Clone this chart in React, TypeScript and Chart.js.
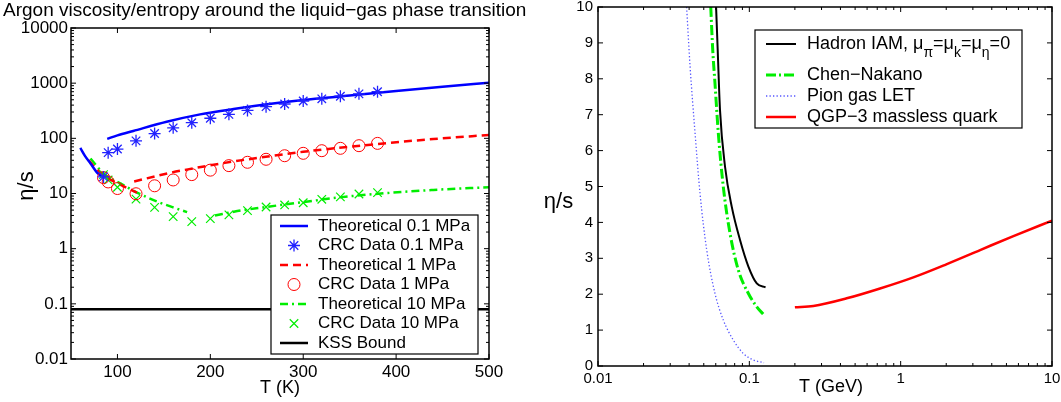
import React, { useEffect, useRef } from 'react';
import { Chart, registerables } from 'chart.js';
Chart.register(...registerables);

const FONT = '"Liberation Sans", Arial, Helvetica, sans-serif';

// ---------------- Left panel: Argon ----------------
const theo01LiqT = [60, 65, 71, 78, 86];
const theo01LiqV = [67, 48, 35, 24, 19];
const theo01GasT = [89, 100, 117, 153, 189, 225, 261, 300, 350, 400, 450, 500];
const theo01GasV = [98, 113, 136, 200, 272, 340, 414, 495, 595, 720, 860, 1020];

const crcT = [85, 90, 100, 120, 140, 160, 180, 200, 220, 240, 260, 280, 300, 320, 340, 360, 380];
const crc01V = [20, 55, 64, 90, 122, 155, 192, 231, 272, 321, 375, 419, 475, 520, 580, 640, 700];

const theo1LiqT = [69, 78, 85, 92, 103, 112, 121];
const theo1LiqV = [40, 27, 22, 18, 14.5, 12.2, 10.4];
const theo1GasT = [118, 157, 182, 207, 250, 300, 380, 440, 500];
const theo1GasV = [16.5, 23.8, 28.6, 34, 44, 57, 79, 97, 115];

const crc1V = [19.4, 16.2, 12.3, 9.9, 13.8, 17.6, 22, 26.5, 32, 36.8, 41.7, 48.4, 53.5, 59.7, 65.9, 73.6, 81];

const theo10LiqT = [71, 85, 103, 121, 143, 160, 175];
const theo10LiqV = [43, 23, 15.3, 10.4, 7.1, 5.6, 4.6];
const theo10GasT = [205, 229, 257, 300, 350, 440, 500];
const theo10GasV = [4.0, 4.8, 5.6, 7.0, 8.9, 11.6, 13];

const crc10V = [22, 17.6, 13, 7.9, 5.6, 3.8, 3.1, 3.5, 4.1, 4.9, 5.7, 6.2, 6.8, 7.85, 8.7, 9.8, 10.4];

const kssT = [50, 500];
const kssV = [0.08, 0.08];

const leftLabels = [
  'Theoretical 0.1 MPa',
  'CRC Data 0.1 MPa',
  'Theoretical 1 MPa',
  'CRC Data 1 MPa',
  'Theoretical 10 MPa',
  'CRC Data 10 MPa',
  'KSS Bound',
];

const leftXTicks = [100, 200, 300, 400, 500];
const leftXTickLabels = ['100', '200', '300', '400', '500'];
const leftYTicks = [0.01, 0.1, 1, 10, 100, 1000, 10000];
const leftYTickLabels = ['0.01', '0.1', '1', '10', '100', '1000', '10000'];

// ---------------- Right panel: hadrons / QGP ----------------
const hadronT = [0.0603, 0.0618, 0.064, 0.0691, 0.0765, 0.0868, 0.0986, 0.112, 0.128];
const hadronV = [10, 8.8, 7.13, 5.55, 4.44, 3.51, 2.77, 2.3, 2.19];

const chenT = [0.0556, 0.0573, 0.0593, 0.0624, 0.0673, 0.0745, 0.0846, 0.0986, 0.112, 0.125];
const chenV = [10, 8.8, 7.87, 6.48, 4.99, 3.7, 2.67, 2.02, 1.65, 1.42];

const pionT = [0.0385, 0.0406, 0.0438, 0.0472, 0.0523, 0.0593, 0.0673, 0.0784, 0.0912, 0.106, 0.125];
const pionV = [10, 8.34, 6.48, 4.81, 3.23, 2.02, 1.28, 0.72, 0.35, 0.17, 0.09];

const qgpT = [0.2, 0.265, 0.44, 0.731, 1.213, 2.02, 3.35, 5.56, 10];
const qgpV = [1.635, 1.671, 1.885, 2.16, 2.47, 2.84, 3.23, 3.62, 4.05];

const rightLabels = ['Hadron IAM, μ_π=μ_k=μ_η=0', 'Chen−Nakano', 'Pion gas LET', 'QGP−3 massless quark'];

const rightXTicks = [0.01, 0.1, 1, 10];
const rightXTickLabels = ['0.01', '0.1', '1', '10'];
const rightYTicks = [0, 1, 2, 3, 4, 5, 6, 7, 8, 9, 10];
const rightYTickLabels = ['0', '1', '2', '3', '4', '5', '6', '7', '8', '9', '10'];

// ---------------- helpers ----------------
const pts = (xs: number[], ys: number[]) => xs.map((x, i) => ({ x, y: ys[i] }));
const branches = (a: any[], b: any[]) => [...a, { x: a[a.length - 1].x, y: null }, ...b];

function logMinors(min: number, max: number) {
  const out: number[] = [];
  for (let e = Math.floor(Math.log10(min)); e <= Math.ceil(Math.log10(max)); e++) {
    for (let k = 2; k <= 9; k++) {
      const v = k * Math.pow(10, e);
      if (v > min && v < max) out.push(v);
    }
  }
  return out;
}

function drawMarker(ctx: CanvasRenderingContext2D, style: string, x: number, y: number, r: number) {
  ctx.beginPath();
  if (style === 'circle') {
    ctx.arc(x, y, r, 0, Math.PI * 2);
  } else {
    const d = r * Math.SQRT1_2;
    if (style === 'star') {
      ctx.moveTo(x - r, y); ctx.lineTo(x + r, y);
      ctx.moveTo(x, y - r); ctx.lineTo(x, y + r);
    }
    ctx.moveTo(x - d, y - d); ctx.lineTo(x + d, y + d);
    ctx.moveTo(x - d, y + d); ctx.lineTo(x + d, y - d);
  }
  ctx.stroke();
}

function drawRich(ctx: CanvasRenderingContext2D, text: string, x: number, y: number, size: number, subSize: number, subShift: number) {
  let cx = x;
  const parts = text.split(/(_.)/);
  for (const p of parts) {
    if (!p) continue;
    if (p[0] === '_' && p.length === 2) {
      ctx.font = `${subSize}px ${FONT}`;
      ctx.fillText(p[1], cx, y + subShift);
      cx += ctx.measureText(p[1]).width;
    } else {
      ctx.font = `${size}px ${FONT}`;
      ctx.fillText(p, cx, y);
      cx += ctx.measureText(p).width;
    }
  }
}

const framePlugin = {
  id: 'frame',
  afterDatasetsDraw(chart: any, _a: any, opts: any) {
    const { ctx, chartArea } = chart;
    const { left, right, top, bottom } = chartArea;
    const xs = chart.scales.x;
    const ys = chart.scales.y;
    ctx.save();
    ctx.setLineDash([]);
    ctx.strokeStyle = '#000';
    ctx.lineWidth = 1;
    const seg = (x1: number, y1: number, x2: number, y2: number) => {
      ctx.beginPath(); ctx.moveTo(x1, y1); ctx.lineTo(x2, y2); ctx.stroke();
    };
    const xTick = (v: number, len: number) => {
      const p = xs.getPixelForValue(v);
      seg(p, bottom, p, bottom - len); seg(p, top, p, top + len);
    };
    const yTick = (v: number, len: number) => {
      const p = ys.getPixelForValue(v);
      seg(left, p, left + len, p); seg(right, p, right - len, p);
    };
    opts.xMajor.forEach((v: number) => xTick(v, opts.major));
    opts.yMajor.forEach((v: number) => yTick(v, opts.major));
    if (opts.xLog) logMinors(xs.min, xs.max).forEach((v) => xTick(v, opts.minor));
    if (opts.yLog) logMinors(ys.min, ys.max).forEach((v) => yTick(v, opts.minor));
    ctx.lineWidth = 1.5;
    ctx.strokeRect(left, top, right - left, bottom - top);
    ctx.restore();
  },
};

const legendPlugin = {
  id: 'boxLegend',
  afterDraw(chart: any, _a: any, o: any) {
    const { ctx } = chart;
    const [x0, y0, x1, y1] = o.box;
    ctx.save();
    ctx.fillStyle = '#fff';
    ctx.fillRect(x0, y0, x1 - x0, y1 - y0);
    ctx.strokeStyle = '#000';
    ctx.lineWidth = 1.2;
    ctx.setLineDash([]);
    ctx.strokeRect(x0, y0, x1 - x0, y1 - y0);
    chart.data.datasets.forEach((ds: any, i: number) => {
      const y = o.rows[i];
      if (ds.showLine !== false) {
        ctx.setLineDash(ds.borderDash || []);
        ctx.strokeStyle = ds.borderColor;
        ctx.lineWidth = ds.borderWidth;
        ctx.beginPath();
        ctx.moveTo(o.lineX[0], y);
        ctx.lineTo(o.lineX[1], y);
        ctx.stroke();
      }
      if (ds.pointRadius > 0) {
        ctx.setLineDash([]);
        ctx.strokeStyle = ds.pointBorderColor;
        ctx.lineWidth = ds.pointBorderWidth;
        drawMarker(ctx, ds.pointStyle, (o.lineX[0] + o.lineX[1]) / 2, y, ds.pointRadius);
      }
      ctx.fillStyle = '#000';
      ctx.textAlign = 'left';
      ctx.textBaseline = 'middle';
      drawRich(ctx, ds.label, o.textX, y, o.size, o.subSize, o.subShift);
    });
    ctx.restore();
  },
};

const textPlugin = {
  id: 'texts',
  afterDraw(chart: any, _a: any, o: any) {
    const { ctx } = chart;
    for (const t of o.items) {
      ctx.save();
      ctx.fillStyle = '#000';
      ctx.font = `${t.size}px ${FONT}`;
      ctx.textAlign = t.align || 'center';
      ctx.textBaseline = 'middle';
      ctx.translate(t.x, t.y);
      if (t.rot) ctx.rotate(t.rot);
      ctx.fillText(t.text, 0, 0);
      ctx.restore();
    }
  },
};

function axis(type: string, min: number, max: number, vals: number[], labels: string[], size: number, pad: number, fit: (s: any) => void) {
  return {
    type,
    min,
    max,
    grid: { display: false, drawTicks: false },
    border: { display: false },
    afterBuildTicks: (s: any) => {
      s.ticks = vals.map((v) => ({ value: v }));
    },
    afterFit: fit,
    ticks: {
      autoSkip: false,
      maxRotation: 0,
      minRotation: 0,
      padding: pad,
      color: '#000',
      font: { family: FONT, size },
      callback: (_v: any, i: number) => labels[i],
    },
  };
}

const lineDs = (label: string, data: any[], color: string, width: number, dash: number[] = [], order = 1) => ({
  label,
  data,
  borderColor: color,
  borderWidth: width,
  borderDash: dash,
  pointRadius: 0,
  fill: false,
  cubicInterpolationMode: 'monotone',
  order,
});

const markDs = (label: string, data: any[], color: string, style: string, r: number, w: number) => ({
  label,
  data,
  showLine: false,
  borderColor: color,
  pointStyle: style,
  pointRadius: r,
  pointBorderColor: color,
  pointBorderWidth: w,
  pointBackgroundColor: 'rgba(0,0,0,0)',
  order: 0,
});

function leftConfig(): any {
  return {
    type: 'line',
    data: {
      datasets: [
        lineDs(leftLabels[0], branches(pts(theo01LiqT, theo01LiqV), pts(theo01GasT, theo01GasV)), '#0000ff', 2.5),
        markDs(leftLabels[1], pts(crcT, crc01V), '#2222ff', 'star', 6, 1.3),
        lineDs(leftLabels[2], branches(pts(theo1LiqT, theo1LiqV), pts(theo1GasT, theo1GasV)), '#ff0000', 2.5, [8, 5]),
        markDs(leftLabels[3], pts(crcT, crc1V), '#ff0000', 'circle', 6, 1),
        lineDs(leftLabels[4], branches(pts(theo10LiqT, theo10LiqV), pts(theo10GasT, theo10GasV)), '#00ee00', 2.5, [8, 4, 2, 4]),
        markDs(leftLabels[5], pts(crcT, crc10V), '#00ee00', 'crossRot', 6, 1.2),
        lineDs(leftLabels[6], pts(kssT, kssV), '#000000', 2.5, [], 2),
      ],
    },
    options: {
      animation: false,
      responsive: false,
      maintainAspectRatio: false,
      events: [],
      layout: { padding: { top: 28, right: 51, left: 0, bottom: 0 } },
      plugins: {
        legend: { display: false },
        tooltip: { enabled: false },
        title: { display: false },
        frame: { xMajor: leftXTicks, yMajor: leftYTicks, xLog: false, yLog: true, major: 5, minor: 3 },
        boxLegend: {
          box: [271, 215, 478, 354],
          rows: [226, 245.5, 265, 284.5, 304, 323.5, 343],
          lineX: [280, 308],
          textX: 318,
          size: 17,
          subSize: 13,
          subShift: 7,
        },
        texts: {
          items: [
            { text: 'Argon viscosity/entropy around the liquid−gas phase transition', x: 3, y: 11, size: 19, align: 'left' },
            { text: 'η/s', x: 27, y: 186, size: 22, rot: -Math.PI / 2 },
            { text: 'T (K)', x: 280, y: 388, size: 18 },
          ],
        },
      },
      scales: {
        x: axis('linear', 50, 500, leftXTicks, leftXTickLabels, 17, 3, (s: any) => {
          s.height = 43; s.paddingLeft = 0; s.paddingRight = 0;
        }),
        y: axis('logarithmic', 0.01, 10000, leftYTicks, leftYTickLabels, 17, 3, (s: any) => {
          s.width = 71; s.paddingTop = 0; s.paddingBottom = 0;
        }),
      },
    },
    plugins: [framePlugin, legendPlugin, textPlugin],
  };
}

function rightConfig(): any {
  return {
    type: 'line',
    data: {
      datasets: [
        lineDs(rightLabels[0], pts(hadronT, hadronV), '#000000', 2),
        lineDs(rightLabels[1], pts(chenT, chenV), '#00ee00', 3, [10, 3, 2, 3]),
        lineDs(rightLabels[2], pts(pionT, pionV), '#5555ff', 1.3, [1.3, 2.2]),
        lineDs(rightLabels[3], pts(qgpT, qgpV), '#ff0000', 2.5),
      ],
    },
    options: {
      animation: false,
      responsive: false,
      maintainAspectRatio: false,
      events: [],
      layout: { padding: { top: 7, right: 9, left: 0, bottom: 0 } },
      plugins: {
        legend: { display: false },
        tooltip: { enabled: false },
        title: { display: false },
        frame: { xMajor: rightXTicks, yMajor: rightYTicks, xLog: true, yLog: false, major: 5, minor: 3 },
        boxLegend: {
          box: [235, 30, 502, 128],
          rows: [44, 75, 96, 117],
          lineX: [246, 276],
          textX: 287,
          size: 18,
          subSize: 14,
          subShift: 9,
        },
        texts: {
          items: [
            { text: 'η/s', x: 38.5, y: 202, size: 22 },
            { text: 'T (GeV)', x: 311, y: 387, size: 18 },
          ],
        },
      },
      scales: {
        x: axis('logarithmic', 0.01, 10, rightXTicks, rightXTickLabels, 15, 4, (s: any) => {
          s.height = 36; s.paddingLeft = 0; s.paddingRight = 0;
        }),
        y: axis('linear', 0, 10, rightYTicks, rightYTickLabels, 15, 5, (s: any) => {
          s.width = 78; s.paddingTop = 0; s.paddingBottom = 0;
        }),
      },
    },
    plugins: [framePlugin, legendPlugin, textPlugin],
  };
}

function ChartCanvas({ make, left, width, height }: { make: () => any; left: number; width: number; height: number }) {
  const ref = useRef<HTMLCanvasElement>(null);
  useEffect(() => {
    const chart = new Chart(ref.current as HTMLCanvasElement, make());
    return () => chart.destroy();
  }, []);
  return (
    <canvas
      ref={ref}
      width={width}
      height={height}
      style={{ position: 'absolute', left, top: 0, width, height, display: 'block' }}
    />
  );
}

export default function App() {
  return (
    <div style={{ position: 'absolute', left: 0, top: 0, width: 1061, height: 402, background: '#fff', overflow: 'hidden' }}>
      <ChartCanvas make={leftConfig} left={0} width={540} height={402} />
      <ChartCanvas make={rightConfig} left={520} width={541} height={402} />
    </div>
  );
}
